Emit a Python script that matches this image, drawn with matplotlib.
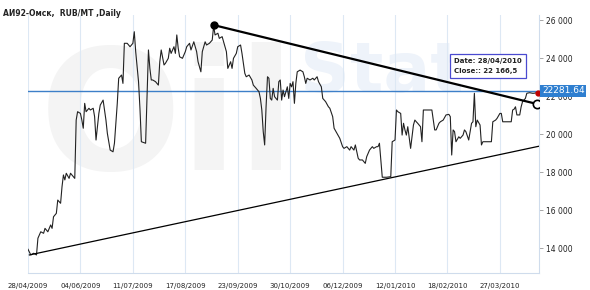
import numpy as np
import pandas as pd
import matplotlib
matplotlib.use("Agg")
import matplotlib.pyplot as plt
from matplotlib.transforms import blended_transform_factory

# days after 28/04/2009 and close price (RUB/MT)
start = pd.Timestamp("2009-04-28")
days = [0, 2, 4, 6, 7, 9, 11, 12, 14, 16, 17, 18, 20, 21, 23, 24, 25, 26, 27, 29,
        30, 33, 34, 35, 37, 38, 39, 40, 41, 43, 44, 46, 47, 48, 50, 51, 53, 55, 56, 58,
        60, 61, 63, 64, 66, 67, 68, 70, 72, 74, 75, 76, 78, 79, 80, 83, 84, 85, 86, 87,
        88, 90, 92, 93, 94, 96, 97, 99, 100, 101, 103, 104, 105, 106, 107, 109, 111, 112, 114, 115,
        117, 119, 120, 122, 123, 125, 126, 128, 130, 131, 132, 134, 135, 137, 138, 140, 141, 143, 144, 145,
        147, 148, 150, 151, 153, 154, 156, 158, 159, 161, 163, 164, 165, 166, 167, 168, 169, 170, 171, 172,
        173, 174, 176, 177, 178, 179, 180, 181, 183, 184, 185, 186, 187, 188, 189, 190, 192, 194, 195, 196,
        197, 199, 201, 202, 204, 205, 207, 208, 210, 212, 213, 215, 216, 218, 220, 222, 223, 225, 227, 228,
        230, 231, 233, 234, 236, 238, 239, 241, 243, 244, 246, 247, 248, 250, 253, 256, 257, 259, 260, 261,
        263, 264, 265, 266, 267, 268, 270, 272, 273, 274, 275, 277, 278, 279, 281, 283, 285, 286, 287, 288,
        290, 291, 293, 295, 297, 298, 299, 300, 301, 302, 304, 305, 307, 308, 309, 311, 312, 313, 314, 315,
        316, 317, 319, 320, 321, 324, 326, 327, 328, 330, 331, 333, 334, 335, 337, 339, 341, 342, 343, 344,
        345, 347, 348, 349, 351, 352, 354, 356, 357, 359, 360]
close = [13950, 13650, 13740, 13650, 14530, 14870, 14790, 15050, 14870, 15230, 15050, 15660, 15840, 16540, 16370, 17240, 17860, 17600, 17950, 17680,
         17950, 17680, 20750, 21190, 21100, 20750, 20320, 21630, 21190, 21370, 21280, 21370, 20930, 19700, 21100, 21540, 21800, 20750, 20050, 19170,
         19080, 19530, 21630, 22950, 23120, 22680, 24790, 24790, 24610, 24790, 25400, 24350, 22770, 21370, 19610, 19530, 22070, 24440, 23470, 22860,
         22860, 22770, 22590, 23820, 24440, 23650, 23740, 24000, 24530, 24260, 24610, 24260, 25230, 24530, 24080, 24000, 24350, 24610, 24790, 24440,
         24870, 24350, 23820, 23290, 24350, 24870, 24700, 24790, 24960, 25700, 25230, 25320, 25050, 25140, 24870, 24350, 23470, 23820, 23470, 24000,
         24260, 24610, 24700, 24260, 23210, 23030, 23120, 22860, 22590, 22420, 22240, 21890, 21280, 20140, 19440, 21450, 23030, 22950, 21890, 21800,
         22420, 21980, 21800, 22770, 22860, 21800, 22330, 21980, 22500, 21890, 22680, 22500, 22770, 21630, 22680, 23290, 23380, 23290, 23030, 22680,
         22950, 22860, 22950, 22860, 23030, 22770, 22500, 21890, 21720, 21450, 21370, 20930, 20320, 20050, 19790, 19350, 19260, 19350, 19170, 19350,
         19170, 19440, 18740, 18650, 18650, 18470, 18820, 19170, 19350, 19260, 19350, 19350, 19530, 17740, 17740, 17770, 19610, 19700, 21280, 21190,
         21100, 19960, 20580, 20230, 19960, 20400, 19260, 20490, 20750, 20660, 20580, 20400, 19610, 21280, 21280, 21280, 21280, 20750, 20230, 20230,
         20580, 20660, 20750, 21020, 21050, 20930, 18910, 20230, 20140, 19610, 19870, 19790, 19960, 20230, 20140, 19700, 20140, 20580, 20660, 22160,
         20400, 20750, 20490, 19440, 19610, 19610, 19610, 19610, 20660, 20750, 20840, 21100, 21100, 20660, 20660, 20660, 20660, 21280, 21320, 21450,
         21020, 21020, 21450, 21720, 21890, 22160, 22190, 22160, 22160, 22190, 22166.5]

# trend lines (day, price)
resist_days = [131, 359]
resist_vals = [25750, 21600]
support_days = [1, 361]
support_vals = [13650, 19380]

last_price = 22281.64
tick_labels = ["28/04/2009", "04/06/2009", "11/07/2009", "17/08/2009", "23/09/2009",
               "30/10/2009", "06/12/2009", "12/01/2010", "18/02/2010", "27/03/2010"]
y_ticks = [14000, 16000, 18000, 20000, 22000, 24000, 26000]

dates = start + pd.to_timedelta(days, unit="D")
r_dates = start + pd.to_timedelta(resist_days, unit="D")
s_dates = start + pd.to_timedelta(support_days, unit="D")
tick_dates = pd.to_datetime(tick_labels, format="%d/%m/%Y")

fig = plt.figure(figsize=(5.9, 2.9), dpi=100)
ax = fig.add_axes([28 / 590, 1 - 273 / 290, 511 / 590, 258 / 290])
ax.set_zorder(2)
ax.patch.set_visible(False)

# faint watermark behind the chart
fig.text(40 / 590, 1 - 170 / 290, "Oil", fontsize=120, fontweight="bold",
         color="#f4f4f4", zorder=0)
fig.text(300 / 590, 1 - 92 / 290, "Stat", fontsize=50, fontweight="bold",
         color="#eef3fa", zorder=0)

ax.plot(dates, close, color="#222222", lw=0.8, zorder=3)
ax.axhline(last_price, color="#3d7fc8", lw=1, zorder=2)
ax.plot(r_dates, resist_vals, color="black", lw=1.6, zorder=4)
ax.plot(s_dates, support_vals, color="black", lw=0.9, zorder=4)
ax.plot(r_dates[0], resist_vals[0], "o", color="black", ms=5, zorder=5)
ax.plot(r_dates[1], resist_vals[1], "o", mfc="white", mec="black", mew=1.2, ms=6, zorder=5)
ax.plot(dates[-1], close[-1], "o", color="#c00000", ms=3.5, zorder=6, clip_on=False)

ax.set_xlim(start, start + pd.Timedelta(days=360.6))
ax.set_ylim(12700, 26280)
ax.set_xticks(tick_dates)
ax.set_xticklabels(tick_labels)
ax.set_yticks(y_ticks)
ax.set_yticklabels([f"{v:,}".replace(",", " ") for v in y_ticks])
ax.yaxis.tick_right()
ax.tick_params(axis="x", length=0, pad=7, labelsize=5, labelcolor="#222222")
ax.tick_params(axis="y", length=3, width=0.6, color="#999999", pad=2,
               labelsize=5.5, labelcolor="#222222")
ax.grid(axis="x", color="#dde8f4", lw=0.8)
for side in ["left", "top"]:
    ax.spines[side].set_visible(False)
for side in ["right", "bottom"]:
    ax.spines[side].set_color("#cfdcec")

# current price label (covers the 22 000 tick as in the original)
trans = blended_transform_factory(ax.transAxes, ax.transData)
ax.text(1.006, last_price, "22281.64", transform=trans, color="white", fontsize=6.5,
        va="center", ha="left", zorder=7,
        bbox=dict(boxstyle="square,pad=0.2", fc="#2f7fd0", ec="none"))

# tooltip
ax.text(0.834, 0.835, "Date: 28/04/2010\nClose:: 22 166,5", transform=ax.transAxes,
        fontsize=5, fontweight="bold", color="#222222", va="top", ha="left",
        linespacing=1.9, zorder=7,
        bbox=dict(boxstyle="square,pad=0.55", fc="white", ec="#4a4ad0", lw=0.9))

fig.text(3 / 590, 1 - 13 / 290, "АИ92-Омск,  RUB/MT ,Daily", fontsize=5.5,
         fontweight="bold", color="#222222", va="center", ha="left")

fig.savefig("out.png", dpi=100)
